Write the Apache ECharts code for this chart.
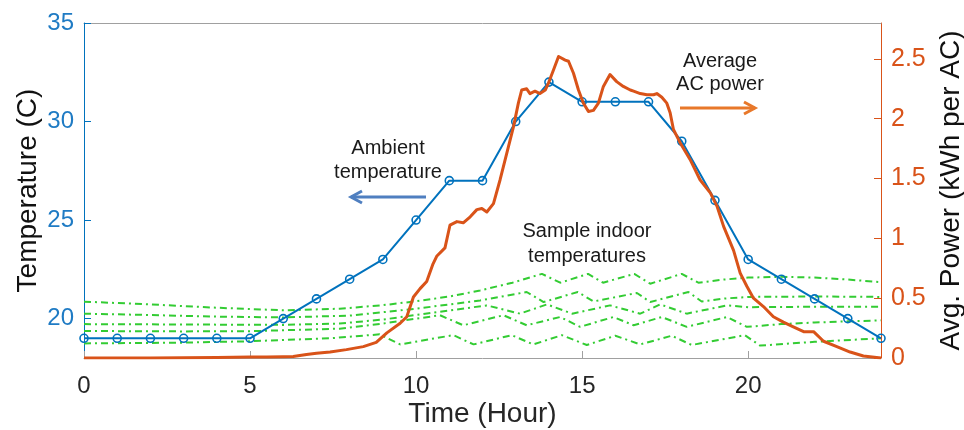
<!DOCTYPE html>
<html><head><meta charset="utf-8">
<script src="https://cdn.jsdelivr.net/npm/echarts@6/dist/echarts.min.js"></script>
<style>html,body{margin:0;padding:0;background:#fff}#c{width:964px;height:430px}</style>
</head><body><div id="c"></div>
<script>
// ---- data ----
const hours = [0,1,2,3,4,5,6,7,8,9,10,11,12,13,14,15,16,17,18,19,20,21,22,23,24];
const ambientTemp = [19,19,19,19,19,19,20,21,22,23,25,27,27,30,32,31,31,31,29,26,23,22,21,20,19];

const acPower = [[0,0],[1,0],[2,0.001],[3,0.002],[4,0.005],[5,0.008],[5.5,0.008],[6,0.01],[6.3,0.012],[6.7,0.03],[7,0.04],[7.41,0.05],[7.9,0.07],[8.41,0.095],[8.8,0.13],[9.12,0.21],[9.52,0.29],[9.72,0.345],[9.92,0.51],[10.12,0.58],[10.32,0.64],[10.5,0.78],[10.62,0.85],[10.87,0.92],[11.02,1.11],[11.23,1.14],[11.42,1.13],[11.63,1.18],[11.83,1.24],[11.98,1.25],[12.13,1.22],[12.33,1.29],[12.53,1.49],[12.73,1.71],[12.93,1.93],[13.08,2.13],[13.18,2.24],[13.33,2.25],[13.43,2.21],[13.58,2.23],[13.73,2.21],[13.89,2.24],[13.99,2.30],[14.14,2.41],[14.29,2.52],[14.49,2.49],[14.59,2.48],[14.74,2.38],[14.89,2.24],[15.04,2.13],[15.19,2.06],[15.34,2.07],[15.49,2.13],[15.64,2.27],[15.84,2.37],[16.04,2.31],[16.24,2.27],[16.45,2.24],[16.55,2.23],[16.75,2.21],[16.95,2.20],[17.15,2.20],[17.25,2.21],[17.40,2.18],[17.55,2.13],[17.65,2.05],[17.75,1.91],[17.95,1.80],[18.25,1.66],[18.55,1.49],[18.86,1.38],[19.06,1.27],[19.26,1.10],[19.56,0.90],[19.76,0.71],[19.96,0.60],[20.16,0.50],[20.46,0.43],[20.76,0.345],[21.06,0.30],[21.36,0.26],[21.67,0.22],[21.97,0.22],[22.27,0.14],[22.67,0.095],[23.07,0.05],[23.47,0.017],[24,0.0]];

const indoor1 = [[0,20.86],[2,20.72],[4,20.55],[6,20.42],[7.7,20.5],[9,20.68],[10,20.88],[11,21.12],[11.93,21.43],[12.9,21.82],[13.79,22.27],[14.34,21.82],[15.18,22.27],[15.63,21.82],[16.57,22.27],[17.05,21.77],[18.0,22.27],[18.5,21.82],[19.2,21.97],[20,22.08],[21,22.12],[22,22.08],[23,21.98],[24,21.85]];
const indoor2 = [[0,20.25],[2,20.18],[4,20.1],[6,20.06],[8,20.15],[10,20.5],[11.93,20.92],[13.33,21.35],[13.84,20.84],[14.87,21.35],[15.34,20.87],[16.65,21.3],[17.05,20.84],[18.2,21.35],[18.6,20.87],[19.3,21.02],[20,21.1],[22,21.12],[24,21.1]];
const indoor3 = [[0,19.72],[3,19.7],[6,19.68],[7.7,19.75],[9,19.95],[10.5,20.3],[12.13,20.67],[13.13,20.25],[13.94,20.72],[14.7,20.25],[15.84,20.67],[16.75,20.25],[17.35,20.72],[18.15,20.25],[19.36,20.67],[20,20.58],[22,20.6],[24,20.6]];
const indoor4 = [[0,19.37],[3,19.35],[5,19.36],[7.7,19.49],[9,19.75],[10.72,20.17],[11.42,19.66],[12.63,20.17],[13.33,19.66],[14.34,20.08],[14.94,19.58],[15.94,20.08],[16.55,19.66],[17.4,20.08],[18.15,19.58],[19.36,20.08],[19.96,19.58],[21,19.72],[22,19.8],[23,19.86],[24,19.91]];
const indoor5 = [[0,18.74],[3,18.78],[5,18.85],[7.4,19.0],[8.9,19.2],[9.52,18.69],[11.12,19.16],[11.73,18.69],[12.88,19.16],[13.53,18.69],[14.39,19.16],[15.14,18.66],[16.0,19.13],[16.75,18.69],[17.7,19.13],[18.3,18.66],[19.9,19.16],[20.36,18.63],[22,18.82],[24,19.0]];

const xTicks = [0,5,10,15,20];
const tempTicks = [20,25,30,35];
const powerTicks = [0,0.5,1,1.5,2,2.5];

// ---- chart ----
const BLUE = '#0072BD', ORANGE = '#D95319', GREEN = '#33cc33';
const FONT = '"Liberation Sans", Arial, sans-serif';
const chart = echarts.init(document.getElementById('c'), null, {renderer: 'canvas'});

const indoorSeries = [indoor1, indoor2, indoor3, indoor4, indoor5].map(d => ({
  type: 'line', data: d, xAxisIndex: 0, yAxisIndex: 0, symbol: 'none', silent: true, z: 2,
  lineStyle: {color: GREEN, width: 2, type: [7, 4, 2, 4]}
}));

chart.setOption({
  animation: false,
  backgroundColor: '#fff',
  textStyle: {fontFamily: FONT},
  grid: {left: 84, right: 83, top: 23, bottom: 72, containLabel: false, outerBoundsMode: 'none'},
  xAxis: [{
    type: 'value', min: 0, max: 24, position: 'bottom',
    axisLine: {show: true, onZero: false, lineStyle: {color: '#a0a0a0', width: 1}},
    axisTick: {show: true, inside: true, length: 7, customValues: xTicks, lineStyle: {color: '#a0a0a0'}},
    axisLabel: {customValues: xTicks, color: '#262626', fontSize: 24, margin: 16, fontFamily: FONT},
    splitLine: {show: false},
    name: 'Time (Hour)', nameLocation: 'middle', nameGap: 42, nameMoveOverlap: false,
    nameTextStyle: {color: '#262626', fontSize: 28, fontFamily: FONT}
  }, {
    type: 'value', min: 0, max: 24, position: 'top',
    axisLine: {show: true, onZero: false, lineStyle: {color: '#a0a0a0', width: 1}},
    axisTick: {show: false}, axisLabel: {show: false}, splitLine: {show: false}
  }],
  yAxis: [{
    type: 'value', min: 18, max: 35, position: 'left',
    axisLine: {show: true, onZero: false, lineStyle: {color: BLUE, width: 1}},
    axisTick: {show: true, inside: true, length: 7, customValues: tempTicks, lineStyle: {color: BLUE}},
    axisLabel: {customValues: tempTicks, color: '#1f7bc4', fontSize: 24, margin: 10, fontFamily: FONT},
    splitLine: {show: false},
    name: 'Temperature (C)', nameLocation: 'middle', nameGap: 42, nameRotate: 90, nameMoveOverlap: false,
    nameTextStyle: {color: '#111', fontSize: 28, fontFamily: FONT}
  }, {
    type: 'value', min: 0, max: 2.8, position: 'right',
    axisLine: {show: true, onZero: false, lineStyle: {color: ORANGE, width: 1}},
    axisTick: {show: true, inside: true, length: 7, customValues: powerTicks, lineStyle: {color: ORANGE}},
    axisLabel: {customValues: powerTicks, color: ORANGE, fontSize: 25, margin: 10, fontFamily: FONT},
    splitLine: {show: false},
    name: 'Avg. Power (kWh per AC)', nameLocation: 'middle', nameGap: 56, nameRotate: 90, nameMoveOverlap: false,
    nameTextStyle: {color: '#111', fontSize: 28, fontFamily: FONT}
  }],
  series: indoorSeries.concat([{
    type: 'line', xAxisIndex: 0, yAxisIndex: 0, z: 3, silent: true,
    data: hours.map((h, i) => [h, ambientTemp[i]]),
    symbol: 'circle', symbolSize: 8,
    itemStyle: {color: 'rgba(255,255,255,0)', borderColor: BLUE, borderWidth: 1.6},
    lineStyle: {color: BLUE, width: 2}
  }, {
    type: 'line', xAxisIndex: 0, yAxisIndex: 1, z: 4, silent: true,
    data: acPower, symbol: 'none',
    lineStyle: {color: ORANGE, width: 3, join: 'round'}
  }]),
  graphic: [
    {type: 'text', x: 388, y: 160, z: 10, style: {text: 'Ambient\ntemperature', fill: '#1a1a1a', font: '20px ' + FONT, align: 'center', verticalAlign: 'middle', lineHeight: 24}},
    {type: 'text', x: 587, y: 244, z: 10, style: {text: 'Sample indoor\ntemperatures', fill: '#1a1a1a', font: '20px ' + FONT, align: 'center', verticalAlign: 'middle', lineHeight: 25}},
    {type: 'text', x: 720, y: 73, z: 10, style: {text: 'Average\nAC power', fill: '#1a1a1a', font: '20px ' + FONT, align: 'center', verticalAlign: 'middle', lineHeight: 23}},
    {type: 'polyline', z: 10, shape: {points: [[426, 197], [351, 197]]}, style: {stroke: '#4f7fc0', lineWidth: 3, fill: null}},
    {type: 'polyline', z: 10, shape: {points: [[362, 191], [351, 197], [362, 203]]}, style: {stroke: '#4f7fc0', lineWidth: 3, fill: null, lineJoin: 'miter'}},
    {type: 'polyline', z: 10, shape: {points: [[680, 108], [755, 108]]}, style: {stroke: '#e8782a', lineWidth: 3, fill: null}},
    {type: 'polyline', z: 10, shape: {points: [[744, 102], [755, 108], [744, 114]]}, style: {stroke: '#e8782a', lineWidth: 3, fill: null, lineJoin: 'miter'}}
  ]
});
</script>
</body></html>
